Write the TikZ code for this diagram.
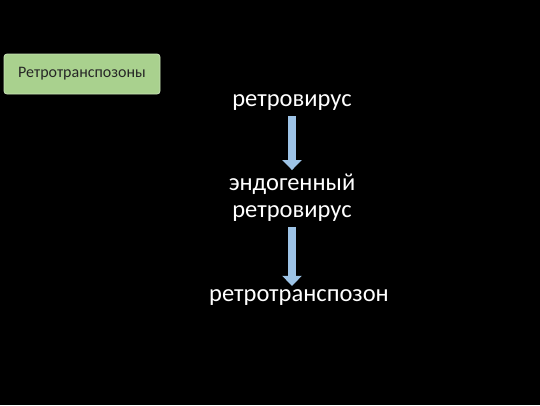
\documentclass[tikz,border=0pt]{standalone}
\usepackage{fontspec}
\setmainfont{Carlito}
\usetikzlibrary{arrows.meta}
\definecolor{boxgreen}{HTML}{A9D18E}
\definecolor{boxedge}{HTML}{C9E2B8}
\definecolor{arrowblue}{HTML}{9DC3E6}
\begin{document}
\begin{tikzpicture}[x=1pt,y=-1pt,
  lbl/.style={text=white,font=\fontsize{24.5}{27}\selectfont,align=center,inner sep=0pt},
  flow/.style={arrowblue,line width=7.5pt,-{Triangle[width=19pt,length=10pt]},shorten <=5pt,shorten >=4pt}]
\fill[black] (0,0) rectangle (540,405);
\useasboundingbox (0,0) rectangle (540,405);
\node[draw=boxedge,line width=0.8pt,fill=boxgreen,rounded corners=3pt,minimum width=156pt,minimum height=40pt,text=black!85,font=\fontsize{16}{18}\selectfont] (title) at (82,74) {Ретротранспозоны};
\node[lbl] (rv) at (292,103) {ретровирус};
\node[lbl] (erv) at (292,198) {эндогенный\\ретровирус};
\node[lbl] (rt) at (299,298) {ретротранспозон};
\draw[flow] (rv.south -| 292,0) -- (erv.north -| 292,0);
\draw[flow] (erv.south -| 292,0) -- (rt.north -| 292,0);
\end{tikzpicture}
\end{document}
